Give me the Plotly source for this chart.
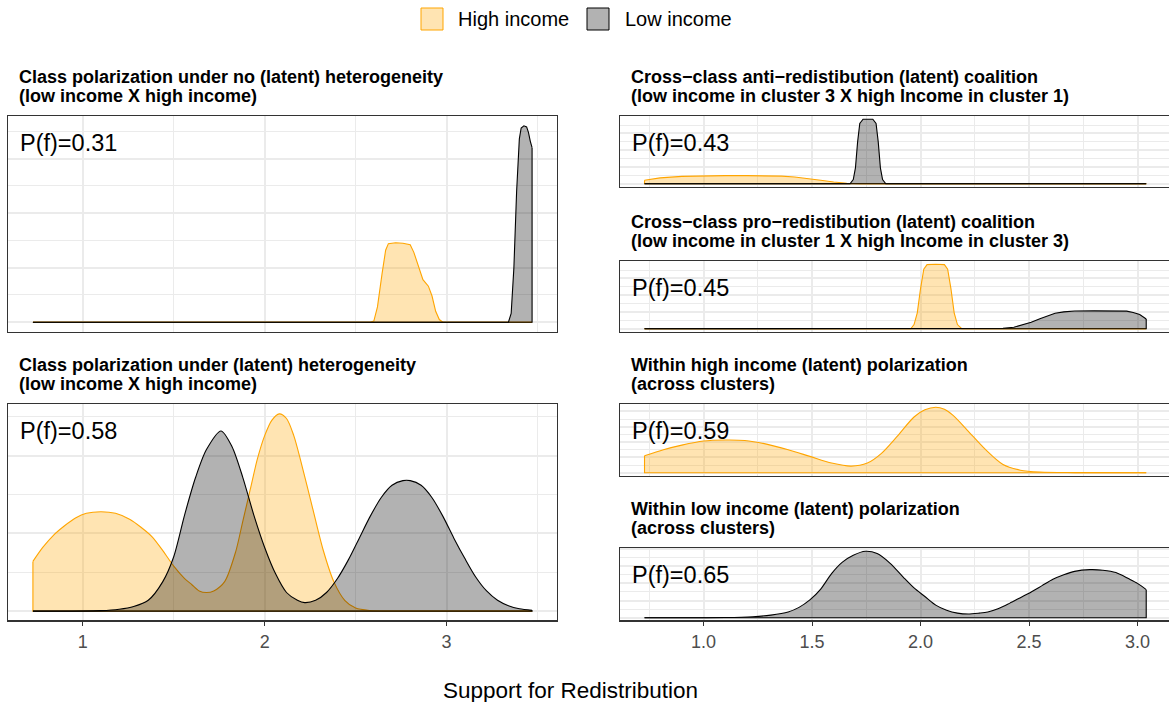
import plotly.graph_objects as go

W, H = 1169, 702

# ---------------- data (densities) ----------------
# Panel 1: class polarization under no heterogeneity
p1_high_x = [0.726, 2.58, 2.60, 2.62, 2.645, 2.665, 2.68, 2.72, 2.76, 2.80, 2.82, 2.85, 2.87, 2.90, 2.92, 2.94, 2.96, 2.98, 3.47]
p1_high_y = [0, 0, 0.05, 0.7, 2.2, 3.3, 3.6, 3.64, 3.62, 3.55, 3.2, 2.5, 1.95, 1.65, 1.2, 0.5, 0.12, 0, 0]
p1_low_x = [0.726, 3.34, 3.355, 3.37, 3.385, 3.40, 3.41, 3.425, 3.44, 3.45, 3.46, 3.47]
p1_low_y = [0, 0, 0.4, 2.5, 6.0, 8.4, 8.9, 9.0, 8.95, 8.7, 8.3, 8.0]

# Panel 2: class polarization under heterogeneity
p2_high_x = [0.726, 0.78, 0.84, 0.90, 0.96, 1.02, 1.10, 1.18, 1.26, 1.32, 1.38, 1.44, 1.50, 1.56, 1.60, 1.64, 1.68, 1.72,
             1.78, 1.84, 1.88, 1.92, 1.96, 2.00, 2.04, 2.08, 2.12, 2.16, 2.20, 2.26, 2.32, 2.38, 2.44, 2.50, 2.58, 2.70, 3.47]
p2_high_y = [0.32, 0.41, 0.49, 0.55, 0.60, 0.63, 0.64, 0.63, 0.59, 0.54, 0.48, 0.39, 0.29, 0.21, 0.17, 0.13, 0.12, 0.13,
             0.19, 0.38, 0.58, 0.78, 0.98, 1.13, 1.23, 1.27, 1.24, 1.13, 0.96, 0.68, 0.40, 0.19, 0.07, 0.02, 0.004, 0, 0]
p2_low_x = [0.726, 1.10, 1.20, 1.28, 1.36, 1.44, 1.50, 1.56, 1.62, 1.68, 1.76, 1.82, 1.88, 1.94, 2.00, 2.06, 2.12, 2.18, 2.22, 2.28,
            2.34, 2.40, 2.46, 2.52, 2.58, 2.64, 2.70, 2.76, 2.80, 2.86, 2.92, 2.98, 3.04, 3.10, 3.16, 3.22, 3.28, 3.34, 3.40, 3.47]
p2_low_y = [0, 0.003, 0.012, 0.03, 0.07, 0.19, 0.35, 0.62, 0.86, 1.04, 1.16, 1.06, 0.86, 0.62, 0.41, 0.24, 0.12, 0.07, 0.055, 0.07,
            0.12, 0.21, 0.33, 0.47, 0.61, 0.73, 0.81, 0.84, 0.84, 0.81, 0.73, 0.61, 0.47, 0.34, 0.22, 0.13, 0.07, 0.035, 0.015, 0.005]

# Panel 3: cross-class anti-redistribution coalition
p3_high_x = [0.728, 0.80, 0.90, 1.00, 1.10, 1.20, 1.30, 1.36, 1.42, 1.48, 1.54, 1.60, 1.66, 1.72, 1.78, 3.04]
p3_high_y = [0.43, 0.70, 0.88, 0.95, 0.97, 0.97, 0.95, 0.91, 0.80, 0.64, 0.42, 0.22, 0.07, 0.02, 0, 0]
p3_low_x = [0.728, 1.675, 1.69, 1.70, 1.71, 1.72, 1.735, 1.78, 1.795, 1.805, 1.815, 1.825, 1.84, 3.04]
p3_low_y = [0, 0, 0.5, 1.9, 5.0, 7.2, 7.7, 7.7, 7.2, 5.0, 1.9, 0.5, 0, 0]

# Panel 4: cross-class pro-redistribution coalition
p4_high_x = [0.728, 1.955, 1.97, 1.985, 2.00, 2.015, 2.03, 2.07, 2.11, 2.125, 2.14, 2.155, 2.17, 2.19, 3.04]
p4_high_y = [0, 0, 0.5, 1.9, 4.8, 7.1, 7.65, 7.7, 7.65, 7.1, 4.8, 1.9, 0.5, 0, 0]
p4_low_x = [0.728, 2.33, 2.38, 2.43, 2.47, 2.51, 2.55, 2.58, 2.62, 2.66, 2.71, 2.80, 2.90, 2.95, 2.98, 3.01, 3.04]
p4_low_y = [0, 0.01, 0.06, 0.19, 0.45, 0.78, 1.2, 1.5, 1.85, 2.02, 2.12, 2.14, 2.14, 2.1, 1.95, 1.7, 1.17]

# Panel 5: within high income polarization
p5_high_x = [0.728, 0.815, 0.90, 1.00, 1.10, 1.19, 1.29, 1.39, 1.49, 1.59, 1.68, 1.755, 1.82, 1.89, 1.97, 2.02, 2.07,
             2.11, 2.15, 2.216, 2.30, 2.38, 2.46, 2.55, 2.71, 3.04]
p5_high_y = [0.33, 0.45, 0.54, 0.62, 0.64, 0.63, 0.56, 0.45, 0.32, 0.19, 0.13, 0.19, 0.38, 0.70, 1.09, 1.23, 1.28,
             1.24, 1.12, 0.83, 0.45, 0.16, 0.05, 0.013, 0.002, 0]

# Panel 6: within low income polarization
p6_low_x = [0.728, 1.10, 1.227, 1.31, 1.39, 1.44, 1.49, 1.54, 1.59, 1.64, 1.69, 1.746, 1.80, 1.86, 1.92, 1.97, 2.02, 2.07,
            2.12, 2.17, 2.22, 2.27, 2.31, 2.36, 2.41, 2.46, 2.51, 2.56, 2.61, 2.66, 2.71, 2.78, 2.84, 2.90, 2.96, 3.00, 3.04]
p6_low_y = [0, 0.003, 0.017, 0.045, 0.10, 0.18, 0.31, 0.50, 0.77, 0.97, 1.09, 1.16, 1.12, 0.95, 0.71, 0.52, 0.37, 0.22,
            0.13, 0.08, 0.064, 0.08, 0.10, 0.16, 0.25, 0.35, 0.45, 0.56, 0.67, 0.75, 0.81, 0.84, 0.83, 0.79, 0.68, 0.60, 0.49]

titles = [
    ["Class polarization under no (latent) heterogeneity", "(low income X high income)"],
    ["Class polarization under (latent) heterogeneity", "(low income X high income)"],
    ["Cross\u2212class anti\u2212redistibution (latent) coalition", "(low income in cluster 3 X high Income in cluster 1)"],
    ["Cross\u2212class pro\u2212redistibution (latent) coalition", "(low income in cluster 1 X high Income in cluster 3)"],
    ["Within high income (latent) polarization", "(across clusters)"],
    ["Within low income (latent) polarization", "(across clusters)"],
]
pf_labels = ["P(f)=0.31", "P(f)=0.58", "P(f)=0.43", "P(f)=0.45", "P(f)=0.59", "P(f)=0.65"]
legend_labels = ["High income", "Low income"]
x_title = "Support for Redistribution"

# ---------------- styling / layout ----------------
FONT = "Liberation Sans, Arial, Helvetica, sans-serif"
STYLE = {
    "high": dict(line="#FFA500", fill="rgba(255,165,0,0.3)"),
    "low": dict(line="#000000", fill="rgba(0,0,0,0.3)"),
}
GRID = "#EBEBEB"
BORDER = "#333333"

def px(x):
    return x / W

def py(y):
    return 1 - y / H

panels = [
    dict(series=[("high", p1_high_x, p1_high_y), ("low", p1_low_x, p1_low_y)], side="left", top=116, bottom=332,
         dtick=2.5, minor=1.25, ticks=False, shape="linear"),
    dict(series=[("high", p2_high_x, p2_high_y), ("low", p2_low_x, p2_low_y)], side="left", top=404, bottom=621,
         dtick=0.5, minor=0.25, ticks=True, shape="spline"),
    dict(series=[("high", p3_high_x, p3_high_y), ("low", p3_low_x, p3_low_y)], side="right", top=116, bottom=187,
         dtick=2, minor=1, ticks=False, shape="linear"),
    dict(series=[("high", p4_high_x, p4_high_y), ("low", p4_low_x, p4_low_y)], side="right", top=261, bottom=332,
         dtick=2, minor=1, ticks=False, shape="linear"),
    dict(series=[("high", p5_high_x, p5_high_y)], side="right", top=404, bottom=476,
         dtick=0.3, minor=0.15, ticks=False, shape="spline"),
    dict(series=[("low", p6_low_x, p6_low_y)], side="right", top=548, bottom=621,
         dtick=0.3, minor=0.15, ticks=True, shape="spline"),
]

SIDES = {
    "left": dict(x0=8, x1=557, rng=[0.589, 3.607], dtick=1, minor=0.5, fmt="d", title_x=17),
    "right": dict(x0=620, x1=W, rng=[0.615, 3.145], dtick=0.5, minor=0.25, fmt=".1f", title_x=629),
}

fig = go.Figure()
annotations = []
shapes = []

for i, p in enumerate(panels, start=1):
    sfx = "" if i == 1 else str(i)
    xa, ya = "x" + sfx, "y" + sfx
    side = SIDES[p["side"]]
    peak = max(max(s[2]) for s in p["series"])
    for key, xs, ys in p["series"]:
        st = STYLE[key]
        line = dict(color=st["line"], width=1.1, shape=p["shape"])
        if p["shape"] == "spline":
            line["smoothing"] = 0.8
        # density curve with fill to zero
        fig.add_trace(go.Scatter(
            x=xs, y=ys, mode="lines", fill="tozeroy", fillcolor=st["fill"], line=line,
            xaxis=xa, yaxis=ya, showlegend=False, hoverinfo="skip"))
        # full outline: end edges and baseline
        fig.add_trace(go.Scatter(
            x=[xs[0], xs[0], xs[-1], xs[-1]], y=[ys[0], 0, 0, ys[-1]], mode="lines",
            line=dict(color=st["line"], width=1.1),
            xaxis=xa, yaxis=ya, showlegend=False, hoverinfo="skip"))

    dom_x = [px(side["x0"]), min(1.0, px(side["x1"]))]
    dom_y = [py(p["bottom"]), py(p["top"])]
    xaxis = dict(
        domain=dom_x, range=side["rng"], anchor=ya, dtick=side["dtick"], tick0=0,
        tickformat=side["fmt"], showgrid=True, gridcolor=GRID, gridwidth=1.5,
        minor=dict(dtick=side["minor"], tick0=0, showgrid=True, gridcolor=GRID, gridwidth=0.8),
        zeroline=False, showline=True, linecolor=BORDER, linewidth=1.3, mirror=True,
        showticklabels=p["ticks"], ticks="outside" if p["ticks"] else "", ticklen=4,
        tickcolor=BORDER, tickwidth=1,
        tickfont=dict(family=FONT, size=18, color="#4D4D4D"), fixedrange=True,
    )
    yaxis = dict(
        domain=dom_y, range=[-0.05 * peak, 1.05 * peak], anchor=xa, dtick=p["dtick"], tick0=0,
        showgrid=True, gridcolor=GRID, gridwidth=1.5,
        minor=dict(dtick=p["minor"], tick0=0, showgrid=True, gridcolor=GRID, gridwidth=0.8),
        zeroline=False, showline=True, linecolor=BORDER, linewidth=1.3,
        mirror=(p["side"] == "left"), showticklabels=False, ticks="", fixedrange=True,
    )
    fig.layout["xaxis" + sfx] = xaxis
    fig.layout["yaxis" + sfx] = yaxis

    if p["ticks"]:
        shapes.append(dict(type="line", xref=xa + " domain", yref=ya + " domain", x0=0, x1=1, y0=0, y1=0,
                           line=dict(color=BORDER, width=2)))

    # panel title (two lines)
    for k, (txt, off) in enumerate(zip(titles[i - 1], (39, 20))):
        annotations.append(dict(
            text="<b>" + txt + "</b>", x=px(side["title_x"]), y=py(p["top"] - off),
            xref="paper", yref="paper", xanchor="left", yanchor="middle", align="left",
            showarrow=False, font=dict(family=FONT, size=18, color="#000000")))
    # P(f) label
    annotations.append(dict(
        text=pf_labels[i - 1], x=px(side["x0"] + 10), y=py(p["top"] + 27),
        xref="paper", yref="paper", xanchor="left", yanchor="middle",
        showarrow=False, font=dict(family=FONT, size=23.5, color="#000000")))

# x-axis title
annotations.append(dict(
    text=x_title, x=px(570), y=py(690), xref="paper", yref="paper", xanchor="center", yanchor="middle",
    showarrow=False, font=dict(family=FONT, size=22.5, color="#000000")))

# legend (drawn manually at the top)
leg_keys = [("high", 421, 456), ("low", 587, 623)]
for (key, kx, tx), lab in zip(leg_keys, legend_labels):
    st = STYLE[key]
    shapes.append(dict(type="rect", xref="paper", yref="paper", x0=px(kx), x1=px(kx + 22),
                       y0=py(30), y1=py(8), fillcolor=st["fill"], line=dict(color=st["line"], width=1)))
    annotations.append(dict(
        text=lab, x=px(tx), y=py(19), xref="paper", yref="paper", xanchor="left", yanchor="middle",
        showarrow=False, font=dict(family=FONT, size=20, color="#000000")))

fig.update_layout(
    width=W, height=H, margin=dict(l=0, r=0, t=0, b=0),
    paper_bgcolor="white", plot_bgcolor="white",
    annotations=annotations, shapes=shapes, showlegend=False,
)

fig.write_html("out.html")
